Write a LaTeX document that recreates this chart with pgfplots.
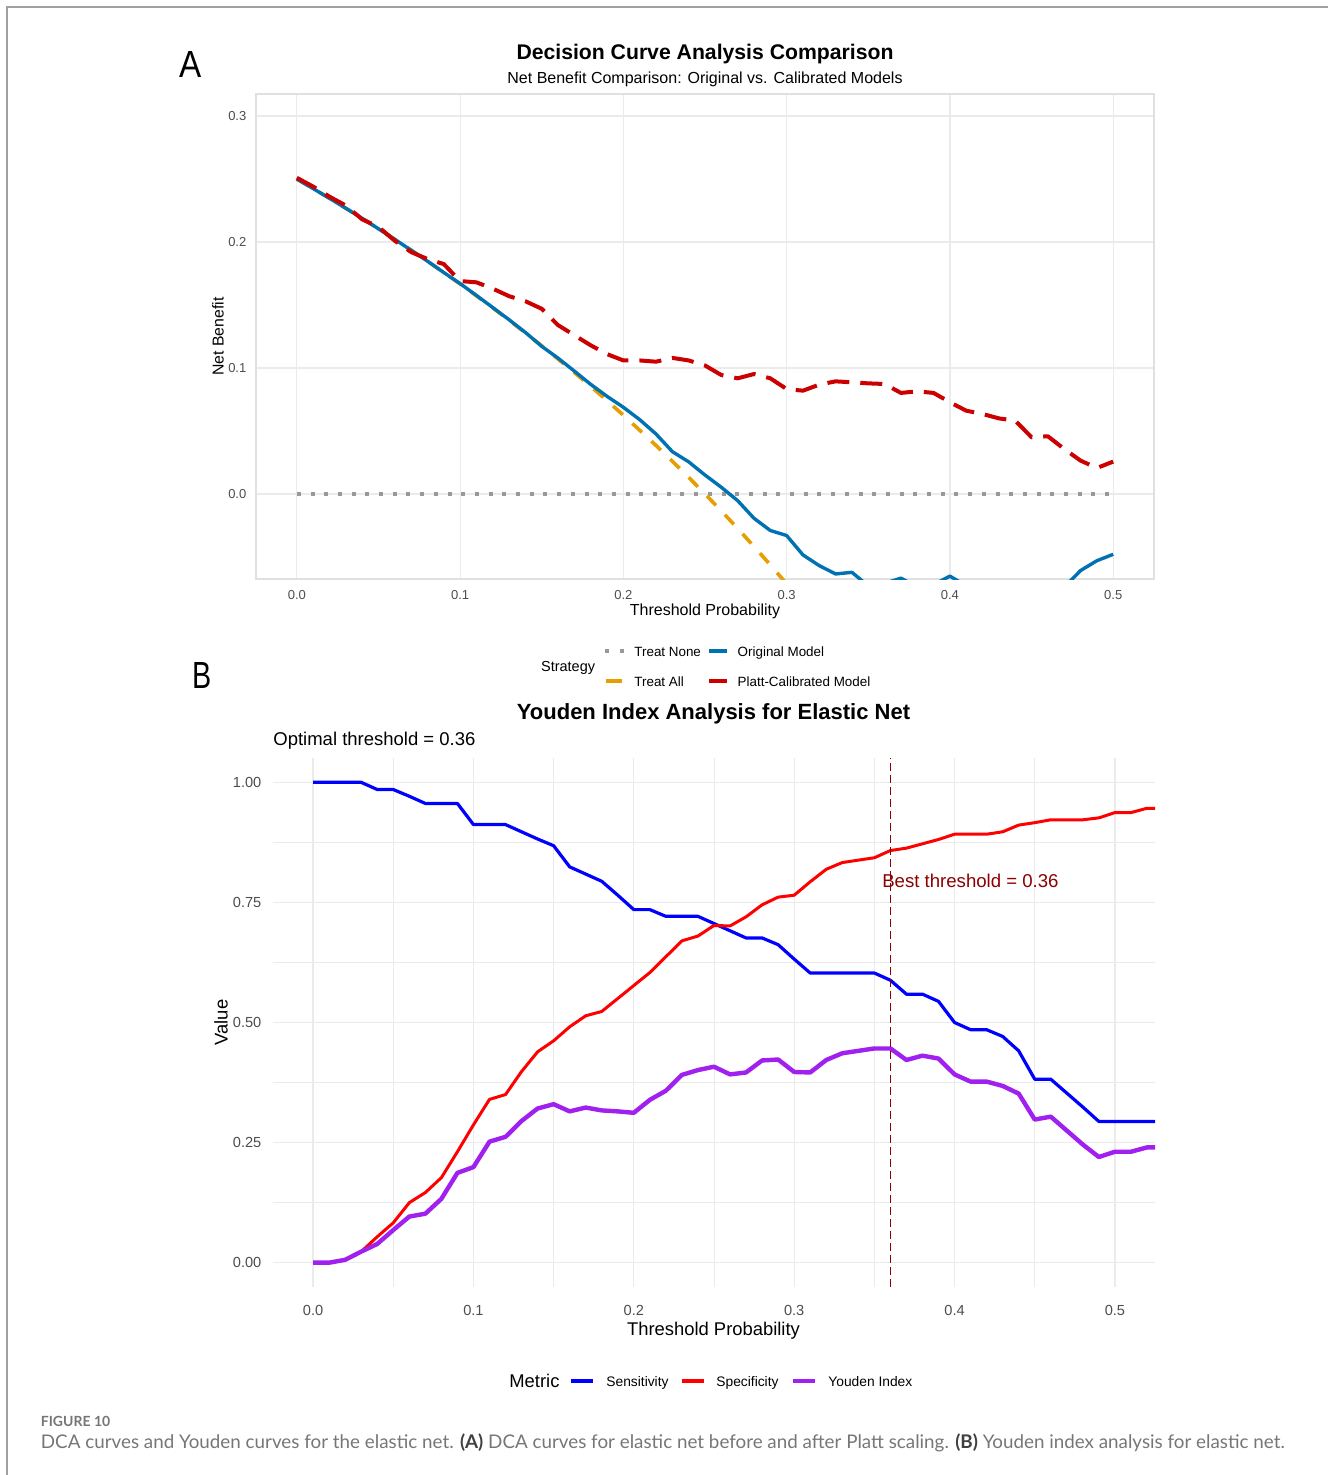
\documentclass[border=0pt]{standalone}
\usepackage{fontspec}
\setmainfont{Liberation Sans}
\newfontfamily\capfont{Lato}
\usepackage{pgfplots}
\usepackage{pgfplotstable}
\pgfplotsset{compat=1.18}

\definecolor{okblue}{HTML}{0072B2}
\definecolor{okorange}{HTML}{E69F00}
\definecolor{dcared}{HTML}{CC0000}
\definecolor{nonegray}{HTML}{999999}
\definecolor{gridgray}{HTML}{EBEBEB}
\definecolor{bordergray}{HTML}{E0E0E0}
\definecolor{ticktext}{HTML}{4D4D4D}
\definecolor{sensblue}{HTML}{0000FF}
\definecolor{specred}{HTML}{FF0000}
\definecolor{youpurple}{HTML}{A020F0}
\definecolor{bestred}{HTML}{8B0000}
\definecolor{capgray}{HTML}{767676}
\definecolor{framegray}{HTML}{A0A0A0}

% Net benefit: treat all
\pgfplotstableread{
pt nb
0.00 0.2500
0.01 0.2424
0.02 0.2347
0.03 0.2268
0.04 0.2188
0.05 0.2105
0.06 0.2021
0.07 0.1935
0.08 0.1848
0.09 0.1758
0.10 0.1667
0.11 0.1573
0.12 0.1477
0.13 0.1379
0.14 0.1279
0.15 0.1176
0.16 0.1071
0.17 0.0964
0.18 0.0854
0.19 0.0741
0.20 0.0625
0.21 0.0506
0.22 0.0385
0.23 0.0260
0.24 0.0132
0.25 0.0000
0.26 -0.0135
0.27 -0.0274
0.28 -0.0417
0.29 -0.0563
0.30 -0.0714
0.31 -0.0870
}\treatall

% Net benefit: original elastic net
\pgfplotstableread{
pt nb
0.00 0.2500
0.01 0.2424
0.02 0.2347
0.03 0.2268
0.04 0.2188
0.05 0.2105
0.06 0.2021
0.07 0.1935
0.08 0.1848
0.09 0.1758
0.10 0.1670
0.11 0.1576
0.12 0.1480
0.13 0.1383
0.14 0.1282
0.15 0.1172
0.16 0.1078
0.17 0.0975
0.18 0.0870
0.19 0.0775
0.20 0.0688
0.21 0.0590
0.22 0.0476
0.23 0.0336
0.24 0.0255
0.25 0.0150
0.26 0.0053
0.27 -0.0053
0.28 -0.0193
0.29 -0.0290
0.30 -0.0330
0.31 -0.0484
0.32 -0.0569
0.33 -0.0635
0.34 -0.0622
0.35 -0.0730
0.36 -0.0710
0.37 -0.0668
0.38 -0.0740
0.39 -0.0720
0.40 -0.0652
0.41 -0.0730
0.42 -0.0800
0.43 -0.0850
0.44 -0.0850
0.45 -0.0820
0.46 -0.0800
0.47 -0.0740
0.48 -0.0608
0.49 -0.0530
0.50 -0.0479
}\origmodel

% Net benefit: Platt-calibrated model
\pgfplotstableread{
pt nb
0.00 0.2510
0.01 0.2440
0.02 0.2360
0.03 0.2290
0.04 0.2180
0.05 0.2120
0.06 0.2010
0.07 0.1920
0.08 0.1865
0.09 0.1825
0.10 0.1690
0.11 0.1680
0.12 0.1630
0.13 0.1570
0.14 0.1530
0.15 0.1470
0.16 0.1340
0.17 0.1260
0.18 0.1180
0.19 0.1110
0.20 0.1060
0.21 0.1060
0.22 0.1050
0.23 0.1080
0.24 0.1060
0.25 0.1020
0.26 0.0944
0.27 0.0918
0.28 0.0952
0.29 0.0918
0.30 0.0833
0.31 0.0820
0.32 0.0868
0.33 0.0894
0.34 0.0886
0.35 0.0878
0.36 0.0873
0.37 0.0802
0.38 0.0815
0.39 0.0802
0.40 0.0728
0.41 0.0661
0.42 0.0635
0.43 0.0600
0.44 0.0582
0.45 0.0450
0.46 0.0458
0.47 0.0357
0.48 0.0265
0.49 0.0206
0.50 0.0257
}\plattmodel

% Sensitivity, specificity and Youden index by threshold
\pgfplotstableread{
pt sens spec youden
0.00 1.000 0.000 0.000
0.01 1.000 0.000 0.000
0.02 1.000 0.006 0.006
0.03 1.000 0.023 0.023
0.04 0.985 0.054 0.039
0.05 0.985 0.083 0.068
0.06 0.971 0.125 0.096
0.07 0.956 0.146 0.102
0.08 0.956 0.177 0.133
0.09 0.956 0.231 0.187
0.10 0.912 0.287 0.199
0.11 0.912 0.340 0.252
0.12 0.912 0.350 0.262
0.13 0.897 0.398 0.295
0.14 0.882 0.439 0.321
0.15 0.868 0.462 0.330
0.16 0.824 0.491 0.315
0.17 0.809 0.514 0.323
0.18 0.794 0.523 0.317
0.19 0.765 0.550 0.315
0.20 0.735 0.577 0.312
0.21 0.735 0.604 0.339
0.22 0.721 0.637 0.358
0.23 0.721 0.670 0.391
0.24 0.721 0.680 0.401
0.25 0.706 0.702 0.408
0.26 0.691 0.701 0.392
0.27 0.676 0.720 0.396
0.28 0.676 0.745 0.421
0.29 0.662 0.761 0.423
0.30 0.632 0.765 0.397
0.31 0.603 0.793 0.396
0.32 0.603 0.819 0.422
0.33 0.603 0.833 0.436
0.34 0.603 0.838 0.441
0.35 0.603 0.843 0.446
0.36 0.588 0.858 0.446
0.37 0.559 0.863 0.422
0.38 0.559 0.872 0.431
0.39 0.544 0.881 0.425
0.40 0.500 0.892 0.392
0.41 0.485 0.892 0.377
0.42 0.485 0.892 0.377
0.43 0.471 0.897 0.368
0.44 0.441 0.911 0.352
0.45 0.382 0.916 0.298
0.46 0.382 0.922 0.304
0.47 0.353 0.922 0.275
0.48 0.324 0.922 0.246
0.49 0.294 0.926 0.220
0.50 0.294 0.937 0.231
0.51 0.294 0.937 0.231
0.52 0.294 0.946 0.240
0.53 0.294 0.946 0.240
}\youdentab

\newcommand{\fs}[1]{\fontsize{#1}{#1}\selectfont}

\begin{document}
\begin{tikzpicture}
\path[use as bounding box] (0pt,0pt) rectangle (664pt,-737.5pt);

% ---------------- Panel A: decision curves ----------------
\begin{axis}[
  at={(128pt,-289.5pt)}, anchor=south west,
  scale only axis, width=449pt, height=242.5pt,
  xmin=-0.025, xmax=0.525, ymin=-0.0675, ymax=0.3175,
  xtick={0,0.1,0.2,0.3,0.4,0.5},
  xticklabels={0.0,0.1,0.2,0.3,0.4,0.5},
  ytick={0,0.1,0.2,0.3},
  yticklabels={0.0,0.1,0.2,0.3},
  grid=major,
  major grid style={draw=gridgray, line width=0.6pt},
  axis line style={draw=bordergray, line width=0.6pt},
  major tick length=0pt, tick style={draw=none},
  xticklabel style={font=\fs{6.5}, text=ticktext, yshift=-2pt},
  yticklabel style={font=\fs{6.5}, text=ticktext, xshift=-1.3pt},
]
\addplot[nonegray, line width=2pt, dash pattern=on 2pt off 4.85pt]
  coordinates {(0,0) (0.5,0)};
\addplot[okorange, line width=1.8pt, dash pattern=on 6.5pt off 6.5pt]
  table[x=pt, y=nb] {\treatall};
\addplot[okblue, line width=1.7pt, line join=round]
  table[x=pt, y=nb] {\origmodel};
\addplot[dcared, line width=2pt, dash pattern=on 11pt off 5.5pt, line join=round]
  table[x=pt, y=nb] {\plattmodel};
\end{axis}

% ---------------- Panel B: Youden index ----------------
\begin{axis}[
  at={(136.5pt,-643.35pt)}, anchor=south west,
  scale only axis, width=441pt, height=264.2pt,
  xmin=-0.025, xmax=0.525, ymin=-0.05, ymax=1.05,
  xtick={0,0.1,0.2,0.3,0.4,0.5},
  xticklabels={0.0,0.1,0.2,0.3,0.4,0.5},
  ytick={0,0.25,0.5,0.75,1},
  yticklabels={0.00,0.25,0.50,0.75,1.00},
  minor xtick={0.05,0.15,0.25,0.35,0.45},
  minor ytick={0.125,0.375,0.625,0.875},
  grid=both,
  major grid style={draw=gridgray, line width=0.6pt},
  minor grid style={draw=gridgray, line width=0.45pt},
  axis line style={draw=none},
  major tick length=0pt, minor tick length=0pt, tick style={draw=none},
  xticklabel style={font=\fs{7.3}, text=ticktext, yshift=-6pt},
  yticklabel style={font=\fs{7.3}, text=ticktext, xshift=-2.3pt},
]
\addplot[sensblue, line width=1.6pt, line join=round]
  table[x=pt, y=sens] {\youdentab};
\addplot[specred, line width=1.5pt, line join=round]
  table[x=pt, y=spec] {\youdentab};
\addplot[youpurple, line width=2.2pt, line join=round]
  table[x=pt, y=youden] {\youdentab};
\addplot[bestred, line width=0.8pt, dash pattern=on 4pt off 2pt]
  coordinates {(0.36,-0.05) (0.36,1.05)};
\node[anchor=west, inner sep=0pt, text=bestred, font=\fs{9.3}]
  at (axis cs:0.3547,0.795) {Best threshold = 0.36};
\end{axis}

% ---------------- Titles, labels, legends, caption ----------------
\begin{scope}[x=0.5pt, y=-0.5pt]
\draw[framegray, line width=0.8pt] (7,1475) -- (7,7) -- (1328,7);

% panel letters
\node[anchor=base, inner sep=0pt, font=\fs{18.9}] at (191,77.3) {\scalebox{0.88}[1]{A}};
\node[anchor=base, inner sep=0pt, font=\fs{18.9}] at (202.5,688) {\scalebox{0.76}[1]{B}};

% panel A texts
\node[anchor=base, inner sep=0pt, font=\bfseries\fs{10.6}] at (705,60) {Decision Curve Analysis Comparison};
\node[anchor=base, inner sep=0pt, font=\fs{8}] at (705,84) {Net Benefit Comparison: Original vs. Calibrated Models};
\node[anchor=base, inner sep=0pt, font=\fs{8}] at (705,615) {Threshold Probability};
\node[anchor=base, inner sep=0pt, font=\fs{7.9}, rotate=90] at (223.7,336.5) {Net Benefit};

% panel A legend
\node[anchor=base east, inner sep=0pt, font=\fs{7.25}] at (595.5,671.7) {Strategy};
\draw[nonegray, line width=2pt, dash pattern=on 2pt off 5.5pt] (604.7,650.7) -- (626,650.7);
\draw[okorange, line width=1.8pt] (606,680.7) -- (622,680.7);
\draw[okblue, line width=1.8pt] (709,650.7) -- (727,650.7);
\draw[dcared, line width=2pt] (709,680.7) -- (727,680.7);
\node[anchor=base west, inner sep=0pt, font=\fs{6.7}] at (634,656.7) {Treat None};
\node[anchor=base west, inner sep=0pt, font=\fs{6.7}] at (634,686.7) {Treat All};
\node[anchor=base west, inner sep=0pt, font=\fs{6.7}] at (737.3,656.7) {Original Model};
\node[anchor=base west, inner sep=0pt, font=\fs{6.7}] at (737.3,686.7) {Platt-Calibrated Model};

% panel B texts
\node[anchor=base, inner sep=0pt, font=\bfseries\fs{11}] at (713.5,719) {Youden Index Analysis for Elastic Net};
\node[anchor=base west, inner sep=0pt, font=\fs{9.25}] at (273,745.6) {Optimal threshold = 0.36};
\node[anchor=base, inner sep=0pt, font=\fs{9.2}] at (713.5,1335.6) {Threshold Probability};
\node[anchor=base, inner sep=0pt, font=\fs{9.2}, rotate=90] at (227.6,1022.5) {Value};

% panel B legend
\node[anchor=base west, inner sep=0pt, font=\fs{9.2}] at (509,1387.5) {Metric};
\draw[sensblue, line width=1.8pt] (571,1381) -- (593,1381);
\draw[specred, line width=1.8pt] (682,1381) -- (704,1381);
\draw[youpurple, line width=2.2pt] (793,1381) -- (815,1381);
\node[anchor=base west, inner sep=0pt, font=\fs{6.9}] at (606,1386) {Sensitivity};
\node[anchor=base west, inner sep=0pt, font=\fs{6.9}] at (716,1386) {Specificity};
\node[anchor=base west, inner sep=0pt, font=\fs{6.9}] at (828,1386) {Youden Index};

% caption
\node[anchor=base west, inner sep=0pt, text=capgray, font=\capfont\bfseries\fs{7}] at (40.5,1426.7) {FIGURE 10};
\node[anchor=base west, inner sep=0pt, text=capgray, font=\capfont\fs{9.4}] at (40.5,1448.3)
  {DCA curves and Youden curves for the elastic net. \textcolor{black!75}{\bfseries(A)} DCA curves for elastic net before and after Platt scaling. \textcolor{black!75}{\bfseries(B)} Youden index analysis for elastic net.};
\end{scope}
\end{tikzpicture}
\end{document}
